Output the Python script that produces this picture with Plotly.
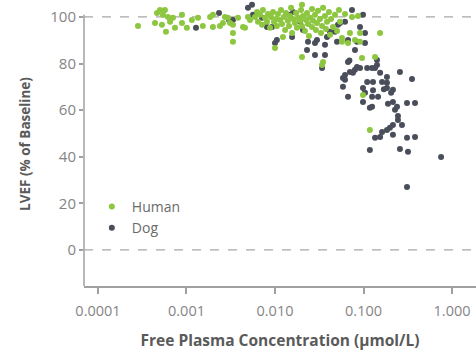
import plotly.graph_objects as go

# Human data: free plasma concentration (umol/L) and LVEF (% of baseline)
human_conc = [
    0.000283, 0.000441, 0.000465, 0.000502, 0.000528, 0.000542, 0.000571, 0.000586,
    0.000618, 0.000652, 0.000703, 0.000741, 0.000889, 0.000889, 0.00101, 0.00115,
    0.00135, 0.00153, 0.00185, 0.00199, 0.00199, 0.00239, 0.00258, 0.00272,
    0.00294, 0.00310, 0.00335, 0.00335, 0.00382, 0.00435, 0.00495, 0.00458,
    0.00522, 0.00335,
    0.00594, 0.00627, 0.00643, 0.00677, 0.00714, 0.00731, 0.00771, 0.00812,
    0.00834, 0.00879, 0.00902, 0.00949, 0.00975, 0.0103, 0.0105, 0.0108,
    0.0114, 0.0117, 0.0120, 0.0126, 0.0130, 0.0133, 0.0140, 0.0144,
    0.0148, 0.0152, 0.0156, 0.0160, 0.0168, 0.0173, 0.0177, 0.0182,
    0.0192, 0.0197, 0.0202, 0.0202, 0.0207, 0.0218, 0.0224, 0.0230,
    0.0236, 0.0242, 0.0249, 0.0262, 0.0262, 0.0269, 0.0283, 0.0290,
    0.0298, 0.0306, 0.0322, 0.0331, 0.0340, 0.0349, 0.0367, 0.0377,
    0.0387, 0.0407, 0.0418, 0.0430, 0.0452, 0.0476, 0.0502, 0.0528,
    0.0543, 0.0571, 0.0618, 0.0668, 0.0703, 0.0741, 0.0801, 0.0867,
    0.0913, 0.0962, 0.135, 0.154, 0.0349, 0.0340, 0.0202, 0.0100,
    0.0123, 0.118, 0.0987, 0.0571, 0.0913,
]
human_lvef = [
    96.1, 97.4, 101.7, 103.0, 96.6, 100.9, 103.0, 93.6,
    100.0, 97.9, 99.6, 95.3, 100.9, 97.4, 95.3, 98.7,
    99.6, 96.1, 100.0, 95.7, 100.9, 96.1, 97.4, 100.0,
    99.6, 97.4, 93.1, 89.3, 99.6, 95.7, 100.0, 95.3,
    98.7, 96.6,
    100.0, 102.1, 97.9, 100.9, 96.6, 103.0, 99.6, 97.9,
    101.3, 95.3, 100.0, 102.1, 97.9, 99.1, 96.1, 101.3,
    98.7, 103.0, 97.0, 100.0, 94.4, 101.7, 98.3, 96.1,
    100.4, 103.9, 93.1, 99.1, 97.4, 101.7, 95.3, 99.6,
    98.3, 103.0, 105.2, 96.1, 100.4, 94.0, 98.7, 101.7,
    97.0, 91.8, 99.6, 103.4, 95.7, 98.3, 100.9, 94.4,
    97.4, 102.6, 99.1, 93.1, 96.1, 103.9, 100.4, 94.8,
    97.9, 102.1, 92.3, 99.1, 95.7, 100.9, 94.0, 103.0,
    97.9, 91.0, 101.3, 88.8, 93.1, 100.0, 90.1, 100.4,
    93.1, 82.4, 82.8, 93.1, 80.7, 79.4, 82.8, 86.7,
    91.4, 51.5, 66.5, 89.3, 89.3,
]

# Dog data
dog_conc = [
    0.00128, 0.00233, 0.00302, 0.00335, 0.00495, 0.00550, 0.00564, 0.00627,
    0.00714, 0.00925, 0.0105, 0.0100, 0.0148, 0.0156, 0.0192, 0.0230,
    0.0236, 0.0283, 0.0298, 0.0340, 0.0367, 0.0387, 0.0418, 0.0502,
    0.0515, 0.0618, 0.0668, 0.0741, 0.0801, 0.0845, 0.0913, 0.0987,
    0.104, 0.104, 0.142, 0.142, 0.0586, 0.0618, 0.0703, 0.0801,
    0.0845, 0.0913, 0.0618, 0.0760, 0.110, 0.125, 0.135, 0.154,
    0.162, 0.184, 0.184, 0.110, 0.128, 0.258, 0.353, 0.0586,
    0.0987, 0.104, 0.215, 0.184, 0.0668, 0.0987, 0.125, 0.146,
    0.125, 0.189, 0.215, 0.239, 0.227, 0.310, 0.382, 0.245,
    0.215, 0.272, 0.199, 0.184, 0.162, 0.154, 0.135, 0.215,
    0.310, 0.382, 0.118, 0.258, 0.318, 0.752, 0.310,
    0.0543, 0.0476, 0.0283, 0.0367, 0.0668, 0.0207, 0.0160, 0.00812,
    0.0693, 0.118, 0.128, 0.170, 0.205, 0.245,
]
dog_lvef = [
    95.3, 101.7, 98.7, 98.7, 103.9, 105.2, 100.9, 101.7,
    99.6, 95.7, 90.1, 88.8, 100.9, 91.4, 97.9, 85.8,
    89.3, 83.7, 90.1, 78.1, 83.7, 91.4, 93.6, 89.3,
    96.6, 97.9, 80.7, 103.0, 85.8, 89.3, 95.7, 100.9,
    93.1, 88.8, 81.5, 79.4, 73.8, 75.1, 76.4, 77.3,
    78.5, 78.1, 73.0, 76.0, 78.1, 78.1, 78.1, 76.0,
    72.1, 74.2, 71.7, 72.1, 72.1, 76.4, 73.4, 70.0,
    69.5, 67.4, 68.7, 69.5, 65.7, 63.5, 65.7, 65.7,
    61.4, 62.7, 63.5, 61.4, 60.1, 63.1, 63.1, 55.8,
    53.6, 53.6, 52.4, 51.5, 50.6, 48.5, 48.1, 49.4,
    48.1, 48.5, 42.9, 43.3, 42.1, 39.9, 27.0,
    97.4, 93.6, 88.8, 88.0, 90.1, 94.4, 102.1, 95.7,
    81.3, 61.0, 68.5, 69.0, 67.5, 57.5,
]

x_tick_vals = [0.0001, 0.001, 0.01, 0.1, 1.0]
x_tick_text = ["0.0001", "0.001", "0.010", "0.100", "1.000"]
y_tick_vals = [0, 20, 40, 60, 80, 100]
ref_lines = [0, 100]
y_axis_span = [-15.5, 100.9]

GREEN = "#8DC63F"
DARK = "#4A4E5A"
AXIS = "#A0A0A0"
TICKTXT = "#858585"
TITLE = "#5A5A5A"
FONT = "Open Sans"

fig = go.Figure()
fig.add_trace(go.Scatter(
    x=dog_conc, y=dog_lvef, mode="markers", name="Dog",
    marker=dict(color=DARK, size=6, line=dict(width=0)),
    cliponaxis=False, legendrank=2,
))
fig.add_trace(go.Scatter(
    x=human_conc, y=human_lvef, mode="markers", name="Human",
    marker=dict(color=GREEN, size=6, line=dict(width=0)),
    cliponaxis=False, legendrank=1,
))

for v in ref_lines:
    fig.add_shape(type="line", xref="paper", x0=0, x1=1, yref="y", y0=v, y1=v,
                  line=dict(color="#A8A8A8", width=1.3, dash="dash"), layer="below")
# visible part of the y axis line
fig.add_shape(type="line", xref="paper", x0=0, x1=0, yref="y",
              y0=y_axis_span[0], y1=y_axis_span[1],
              line=dict(color=AXIS, width=1.5), layer="below")

fig.update_layout(
    width=476, height=352,
    margin=dict(l=84, r=0, t=2, b=66),
    plot_bgcolor="white", paper_bgcolor="white",
    font=dict(family=FONT, color=TICKTXT, size=12),
    showlegend=True,
    legend=dict(x=0.02, y=0.335, xanchor="left", yanchor="top",
                font=dict(family=FONT, size=14, color="#6A6A6A"),
                bgcolor="rgba(0,0,0,0)", itemwidth=30, tracegroupgap=0,
                itemsizing="trace"),
)
fig.update_xaxes(
    type="log", range=[-4.158, 0.271],
    tickvals=x_tick_vals, ticktext=x_tick_text,
    showgrid=False, zeroline=False,
    showline=True, linecolor=AXIS, linewidth=1.5,
    ticks="outside", ticklen=6, tickcolor=AXIS, tickwidth=1.5,
    ticklabelstandoff=5,
    tickfont=dict(family=FONT, size=14.5, color=TICKTXT),
    title=dict(text="<b>Free Plasma Concentration (µmol/L)</b>",
               font=dict(family=FONT, size=15.5, color=TITLE), standoff=16),
)
fig.update_yaxes(
    range=[-15.5, 106.4],
    tickvals=y_tick_vals,
    showgrid=False, zeroline=False,
    showline=False,
    ticks="outside", ticklen=4, tickcolor=AXIS, tickwidth=1.5,
    tickfont=dict(family=FONT, size=15, color=TICKTXT),
    title=dict(text="<b>LVEF (% of Baseline)</b>",
               font=dict(family=FONT, size=13.5, color=TITLE), standoff=16),
)

fig.write_html("out.html")
